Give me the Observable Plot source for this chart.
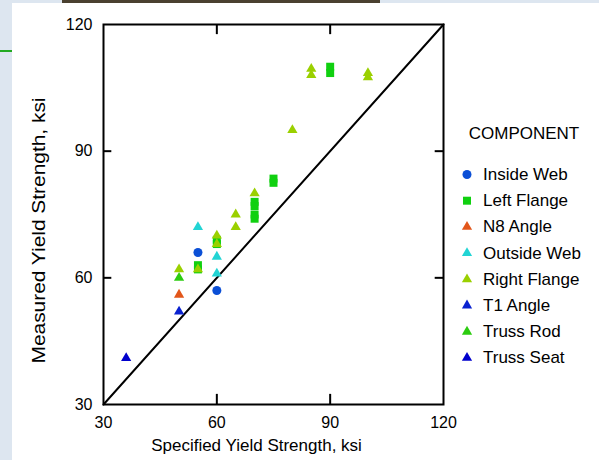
<!DOCTYPE html>
<html>
<head>
<meta charset="utf-8">
<script src="https://cdn.jsdelivr.net/npm/d3@7"></script>
<script src="https://cdn.jsdelivr.net/npm/@observablehq/plot@0.6"></script>
<style>
  html, body { margin: 0; padding: 0; }
  #wrap { position: relative; width: 599px; height: 460px; background: #dde6f0; overflow: hidden; font-family: "Liberation Sans", Arial, sans-serif; }
  #panel { position: absolute; left: 12px; top: 3px; right: 0; bottom: 0; background: #fff; }
  #band { position: absolute; left: 62px; top: 0; width: 318px; height: 3px; background: #4a4030; }
  #gline { position: absolute; left: 0; top: 50px; width: 12px; height: 2px; background: #22aa22; }
  #chart { position: absolute; left: 0; top: 0; }
  #legend { position: absolute; left: 0; top: 0; }
</style>
</head>
<body>
<div id="wrap">
  <div id="panel"></div>
  <div id="band"></div>
  <div id="gline"></div>
  <div id="chart"></div>
  <svg id="legend" width="599" height="460"></svg>
</div>
<script>
// ---- data ----
const components = ["Inside Web", "Left Flange", "N8 Angle", "Outside Web", "Right Flange", "T1 Angle", "Truss Rod", "Truss Seat"];
const shapes = ["circle", "square", "triangle", "triangle", "triangle", "triangle", "triangle", "triangle"];
const colors = ["#0b4fd6", "#10d010", "#e2561a", "#22d4d4", "#9ad000", "#0a22d0", "#2ccc10", "#0000cc"];

const insideWebX = [55, 60];
const insideWebY = [66, 57];
const leftFlangeX = [55, 55, 60, 60, 70, 70, 70, 70, 75, 75, 90, 90];
const leftFlangeY = [63, 62, 69, 68, 78, 77, 75, 74, 83.5, 82.5, 110, 108.5];
const n8AngleX = [50];
const n8AngleY = [56];
const outsideWebX = [55, 60, 60];
const outsideWebY = [72, 65, 61];
const rightFlangeX = [50, 55, 60, 60, 65, 65, 70, 80, 85, 85, 100, 100];
const rightFlangeY = [62, 62, 70, 68, 75, 72, 80, 95, 109.5, 108, 108.5, 107.5];
const t1AngleX = [50];
const t1AngleY = [52];
const trussRodX = [50];
const trussRodY = [60];
const trussSeatX = [36];
const trussSeatY = [41];

const seriesX = [insideWebX, leftFlangeX, n8AngleX, outsideWebX, rightFlangeX, t1AngleX, trussRodX, trussSeatX];
const seriesY = [insideWebY, leftFlangeY, n8AngleY, outsideWebY, rightFlangeY, t1AngleY, trussRodY, trussSeatY];

const axisTicks = [30, 60, 90, 120];
const innerTicks = [60, 90];
const diagonal = [30, 120];
const xTitle = "Specified Yield Strength, ksi";
const yTitle = "Measured Yield Strength, ksi";

// ---- chart ----
const rFor = s => s === "triangle" ? 3.8 : 4.5;

const dotMarks = components.map((c, i) => {
  const rows = seriesX[i].map((x, j) => ({x, y: seriesY[i][j]}));
  return Plot.dot(rows, {x: "x", y: "y", fill: colors[i], symbol: shapes[i], r: rFor(shapes[i])});
});

const chart = Plot.plot({
  width: 599,
  height: 460,
  marginLeft: 103,
  marginRight: 156,
  marginTop: 24,
  marginBottom: 56,
  style: {fontFamily: "Liberation Sans, Arial, sans-serif", fontSize: "16px", color: "#000", background: "transparent"},
  x: {domain: [30, 120]},
  y: {domain: [30, 120]},
  marks: [
    Plot.axisX(axisTicks, {tickSize: 0, tickPadding: 12, label: null, fontSize: 16}),
    Plot.axisY(axisTicks, {tickSize: 0, tickPadding: 11, label: null, fontSize: 16}),
    Plot.ruleX(innerTicks, {y1: 30, y2: 32.4, stroke: "#000", strokeWidth: 2}),
    Plot.ruleX(innerTicks, {y1: 117.6, y2: 120, stroke: "#000", strokeWidth: 2}),
    Plot.ruleY(innerTicks, {x1: 30, x2: 32.2, stroke: "#000", strokeWidth: 2}),
    Plot.ruleY(innerTicks, {x1: 117.8, x2: 120, stroke: "#000", strokeWidth: 2}),
    Plot.line(diagonal, {x: d => d, y: d => d, stroke: "#000", strokeWidth: 2}),
    ...dotMarks,
    Plot.frame({stroke: "#000", strokeWidth: 2}),
    Plot.text([xTitle], {frameAnchor: "bottom", dy: 46, dx: -17, fontSize: 17, lineAnchor: "bottom", textAnchor: "middle"}),
    Plot.text([yTitle], {frameAnchor: "left", dx: -59, dy: 16, rotate: -90, fontSize: 18, lineAnchor: "bottom", textAnchor: "middle"})
  ]
});
d3.select(chart).selectAll("text")
  .filter(function() { return this.textContent === yTitle; })
  .attr("textLength", 266)
  .attr("lengthAdjust", "spacingAndGlyphs");
document.getElementById("chart").appendChild(chart);

// ---- legend ----
const lg = d3.select("#legend");
const symMap = {circle: d3.symbolCircle, square: d3.symbolSquare, triangle: d3.symbolTriangle};
lg.append("text")
  .attr("x", 524).attr("y", 139)
  .attr("text-anchor", "middle")
  .attr("font-family", "Liberation Sans, Arial, sans-serif")
  .attr("font-size", 17)
  .text("COMPONENT");
const items = lg.selectAll("g.item").data(components).join("g")
  .attr("class", "item")
  .attr("transform", (d, i) => `translate(0, ${174.5 + i * 26.2})`);
items.append("path")
  .attr("transform", "translate(467, 0)")
  .attr("d", (d, i) => d3.symbol(symMap[shapes[i]], Math.PI * rFor(shapes[i]) ** 2)())
  .attr("fill", (d, i) => colors[i]);
items.append("text")
  .attr("x", 483).attr("y", 5.5)
  .attr("font-family", "Liberation Sans, Arial, sans-serif")
  .attr("font-size", 17)
  .text(d => d);
</script>
</body>
</html>
